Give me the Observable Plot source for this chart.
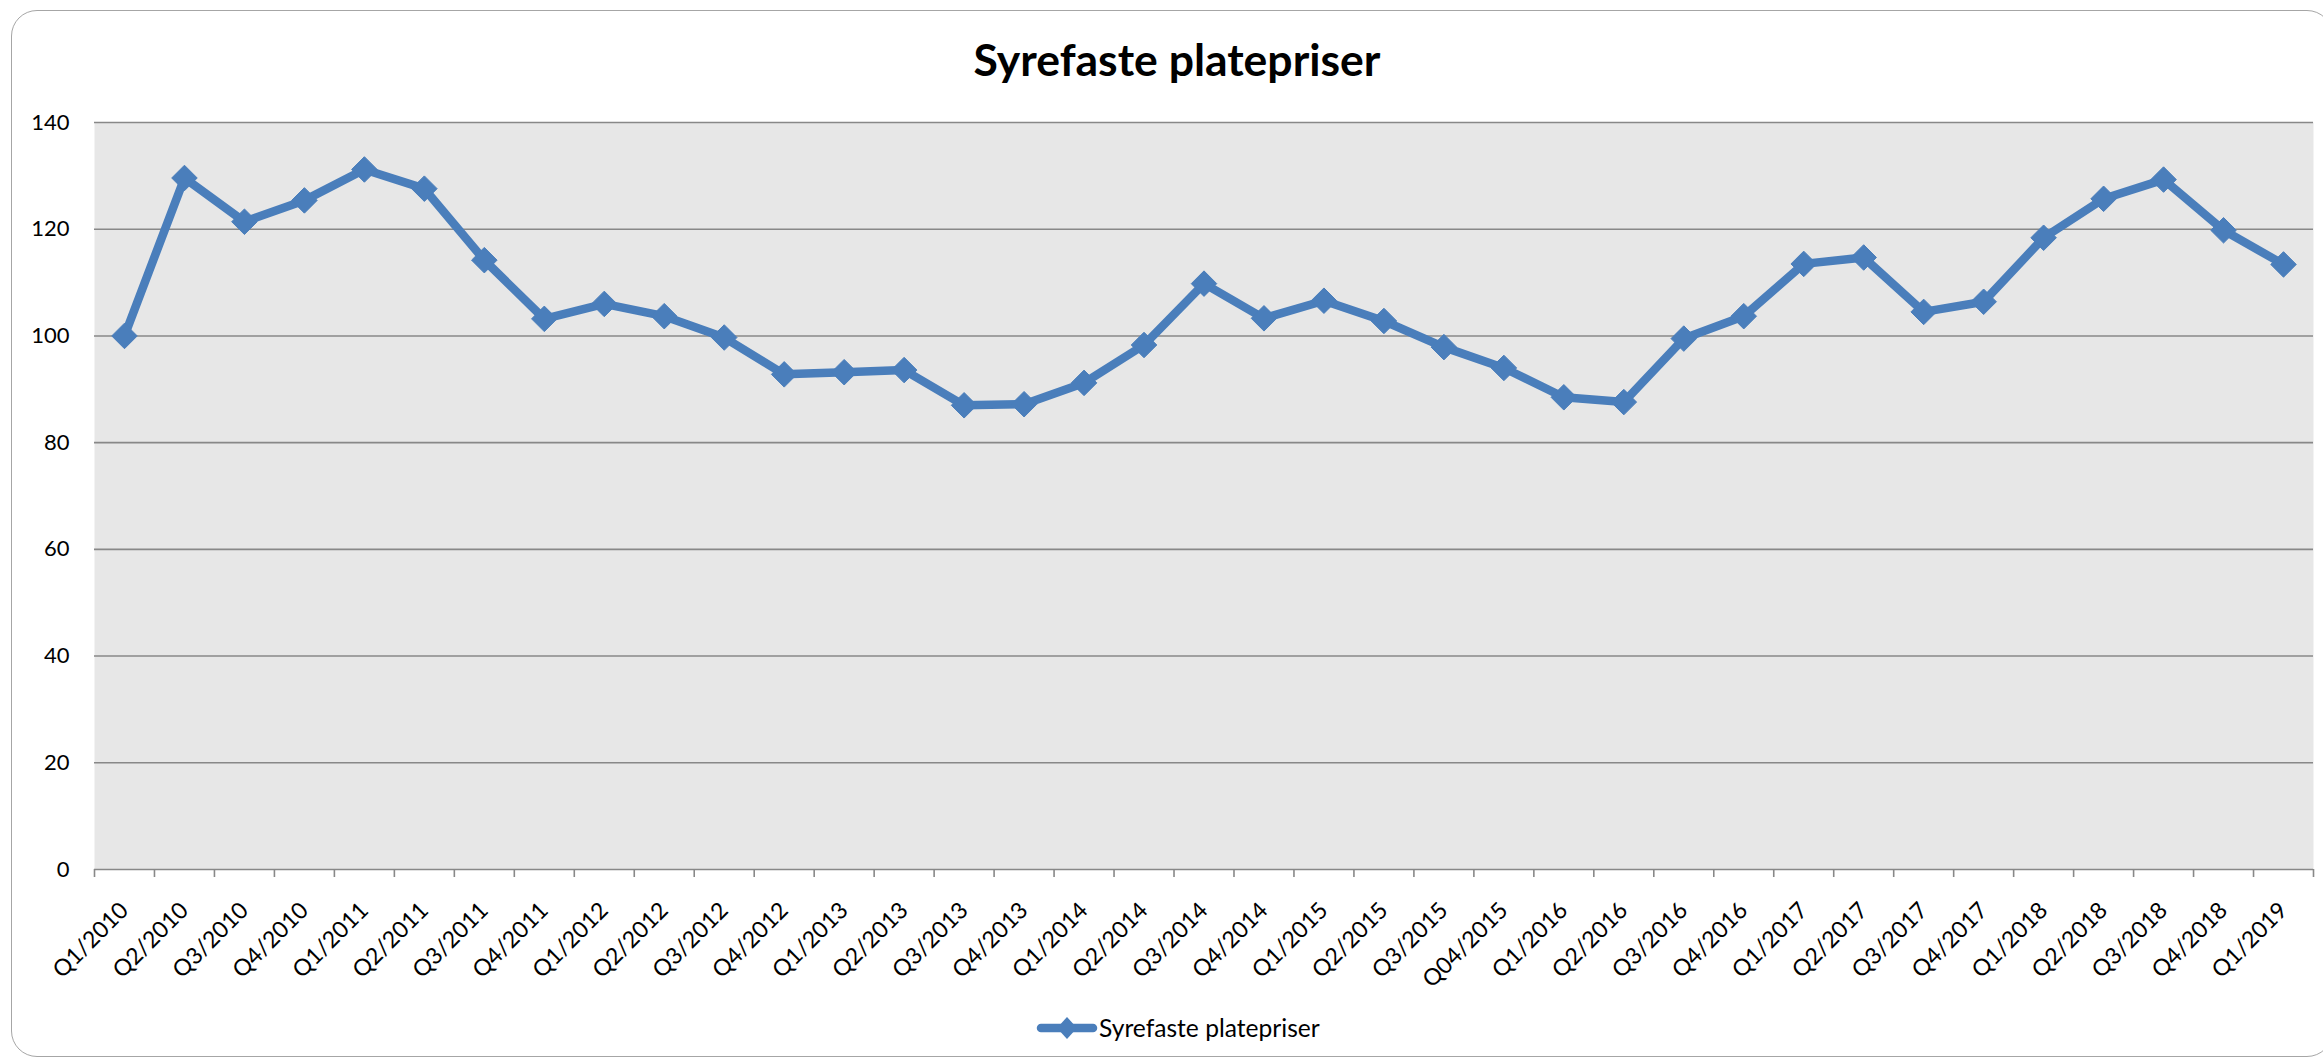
<!DOCTYPE html>
<html>
<head>
<meta charset="utf-8">
<script src="https://cdn.jsdelivr.net/npm/d3@7"></script>
<script src="https://cdn.jsdelivr.net/npm/@observablehq/plot@0.6"></script>
<style>
  html, body { margin: 0; padding: 0; background: #ffffff; }
  #wrap { position: relative; width: 2323px; height: 1060px; overflow: hidden; font-family: Lato, "Open Sans", sans-serif; color: #000; }
  #frame { position: absolute; left: 11px; top: 10px; width: 2322px; height: 1047px; border: 1.5px solid #a6a6a6; border-radius: 26px; box-sizing: border-box; }
  #title { position: absolute; left: 0; width: 2354px; top: 39px; text-align: center; font-weight: bold; font-size: 40px; line-height: 40px; white-space: nowrap; }
  #chart { position: absolute; left: 0; top: 100px; }
  #legend { position: absolute; left: 1036px; top: 1013px; height: 30px; display: flex; align-items: center; white-space: nowrap; }
  #legend span { font-size: 24px; line-height: 30px; margin-left: 1px; }
</style>
</head>
<body>
<div id="wrap">
  <div id="frame"></div>
  <div id="title">Syrefaste platepriser</div>
  <div id="chart"></div>
  <div id="legend">
    <svg width="62" height="26" viewBox="0 0 62 26">
      <line x1="5" y1="13" x2="57" y2="13" stroke="#4a7ebb" stroke-width="8.5" stroke-linecap="round"></line>
      <path d="M31 2 L41 13 L31 24 L21 13 Z" fill="#4a7ebb"></path>
    </svg>
    <span id="legendText">Syrefaste platepriser</span>
  </div>
</div>
<script>
const title = "Syrefaste platepriser";
const seriesName = "Syrefaste platepriser";
const categories = [
  "Q1/2010","Q2/2010","Q3/2010","Q4/2010",
  "Q1/2011","Q2/2011","Q3/2011","Q4/2011",
  "Q1/2012","Q2/2012","Q3/2012","Q4/2012",
  "Q1/2013","Q2/2013","Q3/2013","Q4/2013",
  "Q1/2014","Q2/2014","Q3/2014","Q4/2014",
  "Q1/2015","Q2/2015","Q3/2015","Q04/2015",
  "Q1/2016","Q2/2016","Q3/2016","Q4/2016",
  "Q1/2017","Q2/2017","Q3/2017","Q4/2017",
  "Q1/2018","Q2/2018","Q3/2018","Q4/2018",
  "Q1/2019"
];
const values = [
  100.0, 129.6, 121.4, 125.4,
  131.2, 127.6, 114.2, 103.2,
  106.0, 103.7, 99.7, 92.8,
  93.2, 93.6, 87.0, 87.2,
  91.2, 98.3, 109.8, 103.3,
  106.6, 102.8, 97.9, 94.0,
  88.5, 87.6, 99.5, 103.7,
  113.5, 114.7, 104.5, 106.4,
  118.4, 125.7, 129.3, 119.8,
  113.4
];
const yTicks = [0, 20, 40, 60, 80, 100, 120, 140];

document.getElementById("title").textContent = title;
document.getElementById("legendText").textContent = seriesName;

// fit fonts to reference text widths
function fit(el, targetWidth, weight, base) {
  const c = document.createElement("canvas").getContext("2d");
  c.font = `${weight} ${base}px Lato`;
  const w = c.measureText(el.textContent).width;
  const size = base * targetWidth / w;
  el.style.fontSize = size.toFixed(1) + "px";
}
fit(document.getElementById("title"), 407, "bold", 40);
fit(document.getElementById("legendText"), 221, "normal", 24);

const data = categories.map((c, i) => ({cat: c, idx: i + 0.5, value: values[i]}));
const blue = "#4a7ebb";
const grid = "#888888";

const chart = Plot.plot({
  width: 2323,
  height: 880,
  marginTop: 22,
  marginBottom: 111,
  marginLeft: 94,
  marginRight: 10,
  style: {fontFamily: "Lato, 'Open Sans', sans-serif", fontSize: "23px", color: "#000", background: "transparent", overflow: "visible"},
  x: {type: "linear", domain: [0, categories.length]},
  y: {domain: [0, 140]},
  marks: [
    Plot.frame({fill: "#e7e7e7", stroke: null}),
    Plot.gridY({ticks: yTicks, stroke: grid, strokeOpacity: 1, strokeWidth: 1.6}),
    Plot.axisX(d3.range(categories.length + 1), {tickSize: 8, tickFormat: () => "", label: null, stroke: grid, strokeWidth: 1.6}),
    Plot.axisX(data.map(d => d.idx), {
      tickSize: 0, tickPadding: 37, tickRotate: -45,
      tickFormat: d => categories[Math.floor(d)], label: null, fill: "#000"
    }),
    Plot.axisY({ticks: yTicks, tickSize: 0, tickPadding: 25, label: null, fill: "#000", fontSize: "22px"}),
    Plot.line(data, {x: "idx", y: "value", stroke: blue, strokeWidth: 8.5, strokeLinejoin: "round", strokeLinecap: "round"}),
    Plot.dot(data, {x: "idx", y: "value", symbol: "diamond2", r: 11.5, fill: blue, stroke: blue, strokeWidth: 1})
  ]
});
document.getElementById("chart").appendChild(chart);
</script>
</body>
</html>
